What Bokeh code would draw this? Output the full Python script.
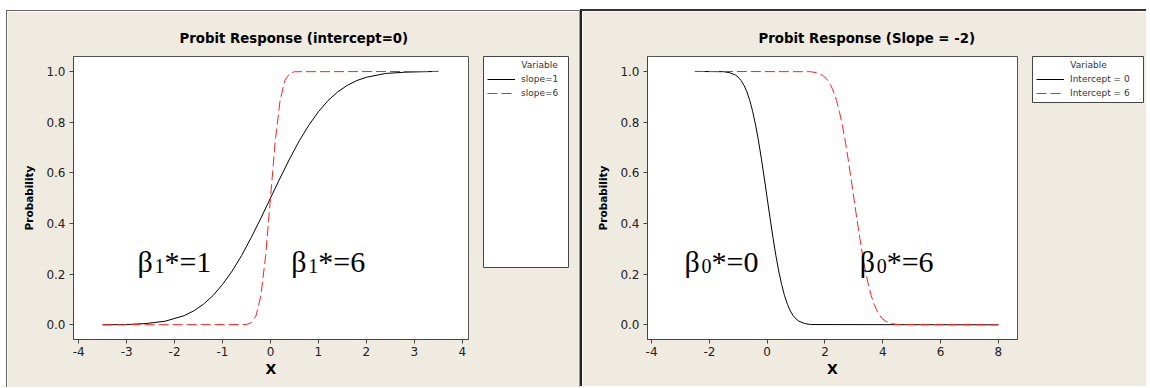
from bokeh.plotting import figure
from bokeh.layouts import row
from bokeh.models import Legend, LegendItem, FixedTicker, Range1d, PrintfTickFormatter
from bokeh.core.properties import value
from bokeh.embed import file_html
from bokeh.resources import INLINE

# ---------------- data ----------------
# Panel 1: Probit Response (intercept=0)
p1_x_slope1 = [-3.5, -3.0, -2.6, -2.2, -1.8, -1.6, -1.4, -1.2, -1.0, -0.8, -0.6, -0.4, -0.2, 0.0,
               0.2, 0.4, 0.6, 0.8, 1.0, 1.2, 1.4, 1.6, 1.8, 2.0, 2.4, 2.8, 3.2, 3.5]
p1_y_slope1 = [0.000, 0.001, 0.005, 0.014, 0.036, 0.055, 0.081, 0.115, 0.159, 0.212, 0.274, 0.345, 0.421, 0.500,
               0.579, 0.655, 0.726, 0.788, 0.841, 0.885, 0.919, 0.945, 0.964, 0.977, 0.992, 0.997, 0.999, 1.000]
p1_x_slope6 = [-3.5, -0.5, -0.4, -0.3, -0.2, -0.1, 0.0, 0.1, 0.2, 0.3, 0.4, 0.5, 3.5]
p1_y_slope6 = [0.000, 0.001, 0.008, 0.036, 0.115, 0.274, 0.500, 0.726, 0.885, 0.964, 0.992, 0.999, 1.000]
p1_series = ["slope=1", "slope=6"]
p1_xticks = [-4, -3, -2, -1, 0, 1, 2, 3, 4]
p1_ann_greek = ["β", "β"]
p1_ann_sub = ["1", "1"]
p1_ann_rest = ["*=1", "*=6"]
p1_ann_x = [-2.775, 0.435]
p1_ann_y = [0.25, 0.25]

# Panel 2: Probit Response (Slope = -2)
p2_x_int0 = [-2.5, -1.5, -1.3, -1.1, -1.0, -0.9, -0.8, -0.7, -0.6, -0.5, -0.4, -0.3, -0.2, -0.1, 0.0,
             0.1, 0.2, 0.3, 0.4, 0.5, 0.6, 0.7, 0.8, 0.9, 1.0, 1.1, 1.3, 1.5, 8.0]
p2_y_int0 = [1.000, 0.999, 0.995, 0.986, 0.977, 0.964, 0.945, 0.919, 0.885, 0.841, 0.788, 0.726, 0.655, 0.579, 0.500,
             0.421, 0.345, 0.274, 0.212, 0.159, 0.115, 0.081, 0.055, 0.036, 0.023, 0.014, 0.005, 0.001, 0.000]
p2_x_int6 = [-2.5, 1.5, 1.7, 1.9, 2.0, 2.1, 2.2, 2.3, 2.4, 2.5, 2.6, 2.7, 2.8, 2.9, 3.0,
             3.1, 3.2, 3.3, 3.4, 3.5, 3.6, 3.7, 3.8, 3.9, 4.0, 4.1, 4.3, 4.5, 8.0]
p2_y_int6 = [1.000, 0.999, 0.995, 0.986, 0.977, 0.964, 0.945, 0.919, 0.885, 0.841, 0.788, 0.726, 0.655, 0.579, 0.500,
             0.421, 0.345, 0.274, 0.212, 0.159, 0.115, 0.081, 0.055, 0.036, 0.023, 0.014, 0.005, 0.001, 0.000]
p2_series = ["Intercept = 0", "Intercept = 6"]
p2_xticks = [-4, -2, 0, 2, 4, 6, 8]
p2_ann_greek = ["β", "β"]
p2_ann_sub = ["0", "0"]
p2_ann_rest = ["*=0", "*=6"]
p2_ann_x = [-2.86, 3.2]
p2_ann_y = [0.25, 0.25]

yticks = [0.0, 0.2, 0.4, 0.6, 0.8, 1.0]
legend_title = "Variable"

# ---------------- styling ----------------
BEIGE = "#EFEBE1"
FONT = "DejaVu Sans"
SERIF = "Liberation Serif"
NB = "\u00a0"
B_TOP, B_BOTTOM = 45, 49
BLACK_STYLE = dict(line_color="black", line_width=1)
RED_STYLE = dict(line_color="#ff2020", line_width=1, line_dash="10 4")


def make_panel(title, title_offset, xr, xticks, width, b_left, b_right,
               xs, ys, ann_x, ann_y, greek, sub, rest, styles):
    p = figure(width=width, height=377,
               x_range=Range1d(*xr), y_range=Range1d(-0.058, 1.059),
               min_border_left=b_left, min_border_right=b_right,
               min_border_top=B_TOP, min_border_bottom=B_BOTTOM,
               output_backend="svg", toolbar_location=None)
    p.styles = styles
    p.background_fill_color = "white"
    p.border_fill_color = BEIGE
    p.outline_line_color = "#555555"
    p.xgrid.visible = False
    p.ygrid.visible = False

    p.title.text = title
    p.title.align = "left"
    p.title.offset = title_offset
    p.title.standoff = 21
    p.title.text_font = FONT
    p.title.text_font_size = "13.3px"
    p.title.text_font_style = "bold"
    p.title.text_color = "black"

    p.xaxis.ticker = FixedTicker(ticks=xticks)
    p.xaxis.formatter = PrintfTickFormatter(format="%d")
    p.yaxis.ticker = FixedTicker(ticks=yticks)
    p.yaxis.formatter = PrintfTickFormatter(format="%.1f")
    for ax in p.axis:
        ax.major_tick_in = 0
        ax.major_tick_out = 4
        ax.minor_tick_line_color = None
        ax.axis_line_color = "#444444"
        ax.major_tick_line_color = "#444444"
        ax.major_label_text_font = FONT
        ax.major_label_text_font_size = "12px"
        ax.major_label_text_color = "#222222"
        ax.axis_label_text_font = FONT
        ax.axis_label_text_font_style = "bold"
        ax.axis_label_text_color = "black"
    p.xaxis.axis_label = "X"
    p.xaxis.axis_label_text_font_size = "14px"
    p.xaxis.major_label_standoff = 3
    p.xaxis.axis_label_standoff = 2
    p.yaxis.axis_label = "Probability"
    p.yaxis.axis_label_text_font_size = "10.5px"
    p.yaxis.major_label_standoff = 4
    p.yaxis.axis_label_standoff = 8

    p.line(xs[0], ys[0], **BLACK_STYLE)
    p.line(xs[1], ys[1], **RED_STYLE)

    common = dict(text_font=value(SERIF), text_color="black", text_baseline="alphabetic", text_align="left")
    p.text(x=ann_x, y=ann_y, text=greek, text_font_size="30px", **common)
    p.text(x=ann_x, y=ann_y, text=sub, text_font_size="20px", x_offset=17, y_offset=5, **common)
    p.text(x=ann_x, y=ann_y, text=rest, text_font_size="30px", x_offset=27, **common)
    return p


def make_legend_box(series, xs, ys, width, box_h, styles):
    # a small figure whose frame is the legend box; its lines carry the series
    # styles but lie outside its own x range, so only the legend samples show
    lg = figure(width=width, height=B_TOP + box_h + B_BOTTOM,
                min_border_left=0, min_border_right=0,
                min_border_top=B_TOP, min_border_bottom=B_BOTTOM,
                x_range=Range1d(20, 21), y_range=Range1d(0, 1),
                x_axis_location=None, y_axis_location=None,
                output_backend="svg", toolbar_location=None)
    lg.styles = styles
    lg.grid.visible = False
    lg.background_fill_color = "white"
    lg.border_fill_alpha = 0
    lg.outline_line_color = "#444444"
    lg.outline_line_width = 1
    r1 = lg.line(xs[0], ys[0], **BLACK_STYLE)
    r2 = lg.line(xs[1], ys[1], **RED_STYLE)
    leg = Legend(items=[LegendItem(label=series[0], renderers=[r1]),
                        LegendItem(label=series[1], renderers=[r2])],
                 location="top_left", title=NB * 12 + legend_title,
                 title_text_font=FONT, title_text_font_size="9px", title_text_font_style="normal",
                 title_text_color="#333333", title_standoff=2,
                 label_text_font=FONT, label_text_font_size="9px", label_text_color="#333333",
                 label_height=14, glyph_height=14, glyph_width=28, label_standoff=6,
                 spacing=0, padding=0, margin=4,
                 border_line_color=None, background_fill_alpha=0)
    lg.add_layout(leg, "center")
    return lg


p1 = make_panel("Probit Response (intercept=0)", 106, (-4.108, 4.13), p1_xticks,
                574, 66, 113,
                [p1_x_slope1, p1_x_slope6], [p1_y_slope1, p1_y_slope6],
                p1_ann_x, p1_ann_y, p1_ann_greek, p1_ann_sub, p1_ann_rest,
                {"margin-left": "6px", "margin-top": "10px",
                 "border-left": "1px solid #666666", "border-top": "1px solid #666666",
                 "border-right": "1px solid #999999"})
l1 = make_legend_box(p1_series, [p1_x_slope1, p1_x_slope6], [p1_y_slope1, p1_y_slope6], 86, 211,
                     {"margin-left": "-97px", "margin-right": "11px", "margin-top": "11px"})

p2 = make_panel("Probit Response (Slope = -2)", 111, (-4.14, 8.66), p2_xticks,
                566, 65, 131,
                [p2_x_int0, p2_x_int6], [p2_y_int0, p2_y_int6],
                p2_ann_x, p2_ann_y, p2_ann_greek, p2_ann_sub, p2_ann_rest,
                {"margin-top": "9px",
                 "border-left": "2px solid #222222", "border-top": "2px solid #333333"})
l2 = make_legend_box(p2_series, [p2_x_int0, p2_x_int6], [p2_y_int0, p2_y_int6], 112, 46,
                     {"margin-left": "-114px", "margin-right": "2px", "margin-top": "11px"})

layout = row(p1, l1, p2, l2)
open("out.html", "w").write(file_html(layout, INLINE))
